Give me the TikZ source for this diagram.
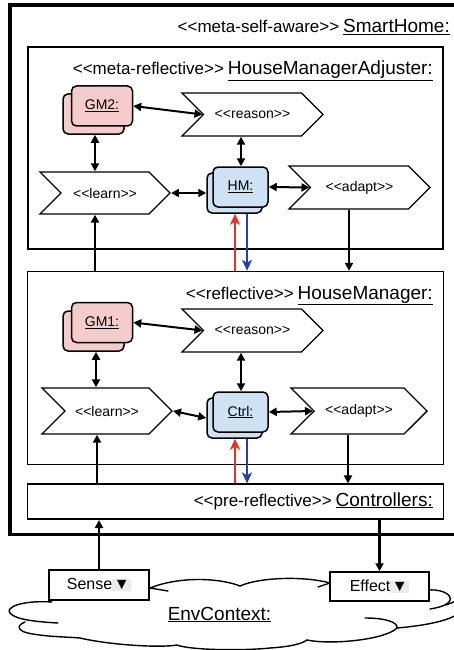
\documentclass[tikz,border=0pt]{standalone}
\usepackage{fontspec}
\setmainfont{Liberation Sans}[Ligatures=TeXOff]
\usepackage{tikz}
\usetikzlibrary{positioning,arrows.meta,shapes.symbols}

\definecolor{gmpink}{RGB}{244,204,204}
\definecolor{ctlblue}{RGB}{207,226,243}
\definecolor{upred}{RGB}{232,50,38}
\definecolor{downblue}{RGB}{42,62,170}

\newcommand{\stereo}[2]{{\fontsize{17}{19}\selectfont #1}~{\fontsize{19}{21}\selectfont\underline{#2}}}
\newcommand{\tri}{{\setlength\fboxsep{1.5pt}\colorbox{black!8}{\fontsize{16}{16}\selectfont ▼}}}

\begin{document}
\begin{tikzpicture}[x=1pt, y=-1pt, every node/.style={inner sep=0pt, font=\fontsize{14}{16}\selectfont},
  layer/.style={draw, line width=1.6pt, fill=white, minimum width=416pt},
  card/.style={draw, line width=1.5pt, rounded corners=5pt, minimum width=55pt, minimum height=40pt},
  chev/.style={draw, line width=1.4pt, fill=white, signal, signal from=west, signal to=east, signal pointer angle=90, minimum width=141pt, minimum height=43pt},
  port/.style={draw, line width=1.5pt, fill=white, minimum width=100pt, minimum height=30pt, font=\fontsize{16}{18}\selectfont},
  link/.style={line width=2pt, {Triangle[length=8pt,width=8pt]}-{Triangle[length=8pt,width=8pt]}},
  feed/.style={line width=2pt, -{Triangle[length=8pt,width=8pt]}},
  upa/.style={upred, line width=2.4pt, -{Stealth[length=11pt,width=10pt,inset=3pt]}},
  downa/.style={downblue, line width=2.4pt, -{Stealth[length=11pt,width=10pt,inset=3pt]}},
  cloudline/.style={line width=1.4pt, line cap=round}]
\useasboundingbox (0,0) rectangle (454,650);

% environment
\draw[cloudline] (168,591) -- (150,588) .. controls (180,576) and (220,578) .. (240,586);
\draw[cloudline] (240,586) .. controls (260,577) and (305,576) .. (330,583);
\draw[cloudline] (318,587) -- (330,583);
\draw[cloudline] (429,590) .. controls (445,589) and (455,597) .. (448,603) .. controls (443,607) and (435,608) .. (430,609);
\draw[cloudline] (446,605) -- (456,601);
\draw[cloudline] (52,602) .. controls (20,600) and (5,608) .. (10,613) .. controls (15,620) and (40,622) .. (58,623);
\draw[cloudline] (25,622) .. controls (15,626) and (18,632) .. (33,634) .. controls (50,637) and (70,637) .. (80,638)
  .. controls (110,645) and (160,648) .. (177,645) .. controls (190,650) and (240,651) .. (270,648)
  .. controls (285,647) and (300,645) .. (307,640);
\draw[cloudline] (307,640) .. controls (330,645) and (385,640) .. (397,628);
\draw[cloudline] (365,618) .. controls (385,618) and (398,622) .. (397,628) .. controls (420,626) and (445,622) .. (456,615);
\node[anchor=base, font=\fontsize{19}{21}\selectfont] (env) at (219.5,620) {\underline{EnvContext:}};

% self-aware frame
\draw[line width=3.5pt] (456,5) -- (10,5) -- (10,534.5) -- (456,534.5);
\node[anchor=base east] (smarthome) at (450,33) {\stereo{<<meta-self-aware>>}{SmartHome:}};

% meta-reflective layer
\node[layer, minimum width=415pt, minimum height=202pt] (hma) at (235.5,148) {};
\node[anchor=base east] (hmaname) at (433,75) {\stereo{<<meta-reflective>>}{HouseManagerAdjuster:}};
\node[card, fill=gmpink, minimum width=61pt] (gm2b) at (93.5,114) {};
\node[card, fill=gmpink, minimum width=61pt] (gm2) at (102,106) {\underline{GM2:}};
\node[chev] (reason2) at (252.5,114.5) {<<reason>>};
\node[chev, minimum width=130pt, minimum height=42pt] (learn2) at (105,193) {<<learn>>};
\node[card, fill=ctlblue] (hmb) at (234.5,193) {};
\node[card, fill=ctlblue] (hm) at (240.5,187) {\underline{HM:}};
\node[chev] (adapt2) at (359.5,187.5) {<<adapt>>};

% reflective layer
\node[layer, minimum height=193pt, below=21pt of hma.south] (hmgr) {};
\node[anchor=base east] (hmgrname) at (433,299) {\stereo{<<reflective>>}{HouseManager:}};
\node[card, fill=gmpink, minimum width=61pt] (gm1b) at (93.5,331) {};
\node[card, fill=gmpink, minimum width=61pt] (gm1) at (102,322.5) {\underline{GM1:}};
\node[chev] (reason1) at (252.5,330.5) {<<reason>>};
\node[chev, minimum width=130pt, minimum height=46pt] (learn1) at (107,411) {<<learn>>};
\node[card, fill=ctlblue] (ctrlb) at (234.5,418) {};
\node[card, fill=ctlblue] (ctrl) at (240.5,412) {\underline{Ctrl:}};
\node[chev, minimum width=136pt, minimum height=46pt] (adapt1) at (359,411) {<<adapt>>};

% pre-reflective layer
\node[layer, minimum height=35pt, below=18pt of hmgr.south] (ctrls) {};
\node[anchor=base east] (ctrlsname) at (433,506) {\stereo{<<pre-reflective>>}{Controllers:}};

% sensors and effectors
\node[port] (sense) at (99,585) {Sense\tri};
\node[port, minimum width=99pt, minimum height=29pt] (effect) at (379.5,586.5) {Effect\tri};

% connectors, upper
\draw[link] (gm2.east) -- (reason2.west);
\draw[link] ([xshift=1.5pt]gm2b.south) -- ([xshift=1.5pt]gm2b.south |- learn2.north);
\draw[link] ([xshift=0.5pt]hm.north |- reason2.south) -- ([xshift=0.5pt]hm.north);
\draw[link] (learn2.east) -- (hmb.west);
\draw[link] (hm.east) -- (adapt2.west);
\draw[feed] ([xshift=-10.5pt]adapt2.south) -- ([xshift=-10.5pt]adapt2.south |- hmgr.north);
\draw[feed] ([xshift=-10pt]learn2.south |- hmgr.north) -- ([xshift=-10pt]learn2.south);
\draw[upa] ([xshift=0.5pt]hmb.south |- hmgr.north) -- ([xshift=0.5pt]hmb.south);
\draw[downa] ([xshift=12.5pt]hmb.south) -- ([xshift=12.5pt]hmb.south |- hmgr.north);

% connectors, lower
\draw[link] (gm1.east) -- (reason1.west);
\draw[link] ([xshift=2.5pt]gm1b.south) -- ([xshift=2.5pt]gm1b.south |- learn1.north);
\draw[link] ([xshift=0.5pt]ctrl.north |- reason1.south) -- ([xshift=0.5pt]ctrl.north);
\draw[link] (learn1.east) -- (ctrlb.west);
\draw[link] (ctrl.east) -- (adapt1.west);
\draw[feed] ([xshift=-11pt]adapt1.south) -- ([xshift=-11pt]adapt1.south |- ctrls.north);
\draw[feed] ([xshift=-10pt]learn1.south |- ctrls.north) -- ([xshift=-10pt]learn1.south);
\draw[upa] ([xshift=0.5pt]ctrlb.south |- ctrls.north) -- ([xshift=0.5pt]ctrlb.south);
\draw[downa] ([xshift=12.5pt]ctrlb.south) -- ([xshift=12.5pt]ctrlb.south |- ctrls.north);

% to and from the environment
\draw[feed] (sense.north) -- (sense.north |- ctrls.south);
\draw[feed, line width=2.6pt] (effect.north |- ctrls.south) -- (effect.north);
\end{tikzpicture}
\end{document}
